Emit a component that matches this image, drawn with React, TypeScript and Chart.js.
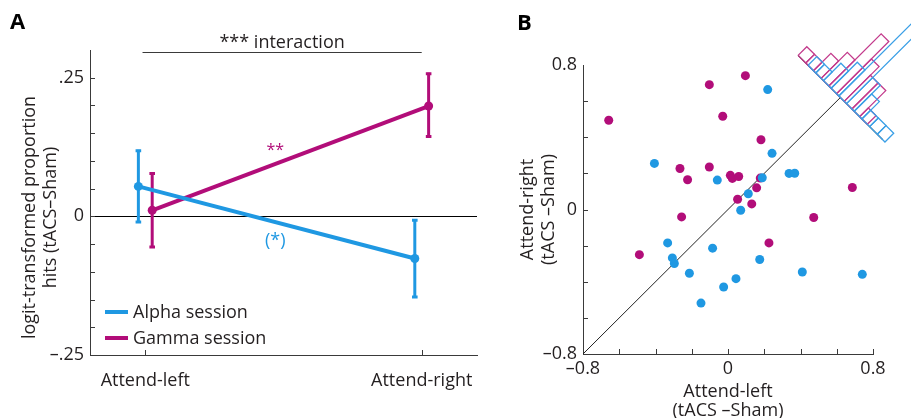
import React, { useEffect, useRef } from 'react';
import { Chart, registerables } from 'chart.js';

Chart.register(...registerables);

const FONT = '"Open Sans", "DejaVu Sans", sans-serif';
const TEXT = '#231f20';
const AXIS = '#3a3a3a';
const BLUE = '#1f98e2';
const MAGENTA = '#b20d79';
const BLUE_H = '#3a9fe6';
const MAGENTA_H = '#c33a8c';

// ---------- Panel A data ----------
const conditions = ['Attend-left', 'Attend-right'];
const seriesNames = ['Alpha session', 'Gamma session'];
const alphaMean = [0.054, -0.076];
const alphaLower = [-0.012, -0.147];
const alphaUpper = [0.12, -0.005];
const gammaMean = [0.011, 0.199];
const gammaLower = [-0.057, 0.142];
const gammaUpper = [0.079, 0.259];
const yTickValuesA = [-0.25, 0, 0.25];
const yTickTextA = ['\u2013.25', '0', '.25'];

// ---------- Panel B data ----------
const alphaLeft = [0.219, 0.243, -0.406, -0.059, 0.189, 0.337, 0.368, 0.112, 0.07, -0.333, -0.085, -0.307, -0.296, -0.213, 0.175, 0.044, -0.024, -0.149, 0.41, 0.741];
const alphaRight = [0.664, 0.311, 0.255, 0.163, 0.176, 0.2, 0.201, 0.087, -0.004, -0.185, -0.214, -0.268, -0.299, -0.353, -0.277, -0.383, -0.429, -0.518, -0.346, -0.359];
const gammaLeft = [-0.658, -0.103, 0.096, -0.029, 0.182, -0.265, -0.223, -0.103, 0.013, 0.024, 0.059, 0.178, 0.158, 0.053, 0.131, -0.256, 0.686, 0.473, 0.226, -0.489];
const gammaRight = [0.494, 0.691, 0.741, 0.516, 0.386, 0.227, 0.165, 0.235, 0.189, 0.172, 0.183, 0.174, 0.12, 0.057, 0.031, -0.041, 0.122, -0.044, -0.185, -0.25];
// difference histograms (counts per bin, from "right>left" end to "left>right" end)
const gammaHist = [1, 1, 2, 3, 6, 4, 3, 3, 1, 0, 0];
const alphaHist = [0, 1, 1, 2, 3, 11, 3, 2, 1, 1, 1];
const tickValuesB = [-0.8, 0, 0.8];
const tickTextB = ['\u20130.8', '0', '0.8'];

// histogram geometry (data units)
const HIST_CENTER = 0.62;
const HIST_BIN = 0.06;
const HIST_UNIT = 0.068;
const ALPHA_SHIFT = 0.3;
const X_OFF_A = 0.025;

function txt(ctx: CanvasRenderingContext2D, s: string, x: number, y: number, o: any = {}) {
  ctx.save();
  ctx.font = `${o.weight || 'normal'} ${o.size || 18}px ${FONT}`;
  ctx.fillStyle = o.color || TEXT;
  ctx.textAlign = o.align || 'center';
  ctx.textBaseline = o.baseline || 'alphabetic';
  if (o.rotate) {
    ctx.translate(x, y);
    ctx.rotate(-Math.PI / 2);
    ctx.fillText(s, 0, 0);
  } else {
    ctx.fillText(s, x, y);
  }
  ctx.restore();
}

function labelFor(values: number[], texts: string[]) {
  return (v: any) => {
    const i = values.findIndex((t) => Math.abs(t - Number(v)) < 1e-6);
    return i >= 0 ? texts[i] : '';
  };
}

function inwardTicks(chart: any, len: number) {
  const { ctx, chartArea: ca, scales } = chart;
  ctx.save();
  ctx.strokeStyle = AXIS;
  ctx.lineWidth = 1;
  ctx.beginPath();
  scales.y.ticks.forEach((t: any) => {
    if (t.value > scales.y.max - 1e-9) return;
    const py = Math.round(scales.y.getPixelForValue(t.value)) + 0.5;
    ctx.moveTo(ca.left, py);
    ctx.lineTo(ca.left + len, py);
  });
  scales.x.ticks.forEach((t: any) => {
    if (t.value <= scales.x.min + 1e-9) return;
    const px = Math.round(scales.x.getPixelForValue(t.value)) + 0.5;
    ctx.moveTo(px, ca.bottom);
    ctx.lineTo(px, ca.bottom - len);
  });
  ctx.stroke();
  ctx.restore();
}

const panelAPlugin = {
  id: 'panelA',
  beforeDatasetsDraw(chart: any) {
    const { ctx, chartArea: ca, scales: { x, y } } = chart;
    ctx.save();
    ctx.strokeStyle = '#000';
    ctx.lineWidth = 1;
    const y0 = Math.round(y.getPixelForValue(0)) + 0.5;
    ctx.beginPath();
    ctx.moveTo(ca.left, y0);
    ctx.lineTo(ca.right, y0);
    ctx.stroke();
    const series: [number[], number[], number, string][] = [
      [gammaLower, gammaUpper, X_OFF_A, MAGENTA],
      [alphaLower, alphaUpper, -X_OFF_A, BLUE],
    ];
    series.forEach(([lo, hi, off, col]) => {
      ctx.strokeStyle = col;
      conditions.forEach((_, i) => {
        const px = x.getPixelForValue(i + off);
        const pl = y.getPixelForValue(lo[i]);
        const ph = y.getPixelForValue(hi[i]);
        ctx.lineWidth = 3;
        ctx.beginPath();
        ctx.moveTo(px, pl);
        ctx.lineTo(px, ph);
        ctx.stroke();
        ctx.lineWidth = 3;
        ctx.beginPath();
        ctx.moveTo(px - 2.8, ph + 1);
        ctx.lineTo(px + 2.8, ph + 1);
        ctx.moveTo(px - 2.8, pl - 1);
        ctx.lineTo(px + 2.8, pl - 1);
        ctx.stroke();
      });
    });
    ctx.restore();
  },
  afterDraw(chart: any) {
    const { ctx, chartArea: ca, scales: { x, y } } = chart;
    inwardTicks(chart, 5);
    txt(ctx, 'A', 10, 29, { size: 22, weight: 'bold', align: 'left', color: '#000' });
    // interaction bracket
    const bx0 = x.getPixelForValue(-0.01);
    const bx1 = x.getPixelForValue(1);
    ctx.save();
    ctx.strokeStyle = AXIS;
    ctx.lineWidth = 1;
    ctx.beginPath();
    ctx.moveTo(bx0, 52.5);
    ctx.lineTo(bx1, 52.5);
    ctx.stroke();
    ctx.restore();
    txt(ctx, '*** interaction', (bx0 + bx1) / 2, 48, { size: 18 });
    const mid = x.getPixelForValue(0.47);
    txt(ctx, '**', mid, 155, { size: 16, color: MAGENTA });
    txt(ctx, '(*)', mid, 246, { size: 18, color: BLUE });
    // legend
    const legend: [string, string, number][] = [
      [seriesNames[0], BLUE, 312],
      [seriesNames[1], MAGENTA, 338],
    ];
    legend.forEach(([name, col, ly]) => {
      ctx.save();
      ctx.strokeStyle = col;
      ctx.lineWidth = 4;
      ctx.beginPath();
      ctx.moveTo(105, ly);
      ctx.lineTo(128, ly);
      ctx.stroke();
      ctx.restore();
      txt(ctx, name, 133, ly + 6, { size: 18, align: 'left' });
    });
    // y title
    const cy = (ca.top + ca.bottom) / 2 + 15;
    txt(ctx, 'logit-transformed proportion', 35, cy, { size: 18, rotate: true });
    txt(ctx, 'hits (tACS\u2013Sham)', 56, cy, { size: 18, rotate: true });
  },
};

function histDatasets(counts: number[], shift: number, color: string) {
  const half = counts.length / 2;
  const s = Math.SQRT1_2;
  const p = (t: number, h: number) => ({ x: HIST_CENTER + t * s + h * s, y: HIST_CENTER - t * s + h * s });
  const out: any[] = [];
  counts.forEach((c, i) => {
    if (!c) return;
    const t0 = (i - half + shift) * HIST_BIN;
    const t1 = t0 + HIST_BIN;
    const h = c * HIST_UNIT;
    out.push({
      data: [p(t0, 0), p(t0, h), p(t1, h), p(t1, 0), p(t0, 0)],
      showLine: true,
      borderColor: color,
      borderWidth: 1.3,
      pointRadius: 0,
      fill: false,
      clip: false,
    });
  });
  return out;
}

function baseLineDataset() {
  const half = (gammaHist.length / 2) * HIST_BIN;
  const s = Math.SQRT1_2;
  return {
    data: [
      { x: HIST_CENTER - half * s, y: HIST_CENTER + half * s },
      { x: HIST_CENTER + half * s, y: HIST_CENTER - half * s },
    ],
    showLine: true,
    borderColor: '#222',
    borderWidth: 1.2,
    pointRadius: 0,
    clip: false,
  };
}

const panelBPlugin = {
  id: 'panelB',
  afterDraw(chart: any) {
    const { ctx, chartArea: ca } = chart;
    inwardTicks(chart, 5);
    txt(ctx, 'B', 27, 30, { size: 22, weight: 'bold', align: 'left', color: '#000' });
    const cy = (ca.top + ca.bottom) / 2;
    txt(ctx, 'Attend-right', 43, cy, { size: 18, rotate: true });
    txt(ctx, '(tACS \u2013Sham)', 64, cy, { size: 18, rotate: true });
    const cx = (ca.left + ca.right) / 2;
    txt(ctx, 'Attend-left', cx, 397, { size: 18 });
    txt(ctx, '(tACS \u2013Sham)', cx, 416, { size: 18 });
  },
};

function PanelA() {
  const ref = useRef<HTMLCanvasElement>(null);
  useEffect(() => {
    if (!ref.current) return;
    const chart = new Chart(ref.current, {
      type: 'scatter',
      data: {
        datasets: [
          {
            label: seriesNames[0],
            data: conditions.map((_, i) => ({ x: i - X_OFF_A, y: alphaMean[i] })),
            showLine: true,
            borderColor: BLUE,
            backgroundColor: BLUE,
            borderWidth: 4,
            pointRadius: 4.5,
            pointBorderWidth: 0,
            clip: false,
          },
          {
            label: seriesNames[1],
            data: conditions.map((_, i) => ({ x: i + X_OFF_A, y: gammaMean[i] })),
            showLine: true,
            borderColor: MAGENTA,
            backgroundColor: MAGENTA,
            borderWidth: 4,
            pointRadius: 4.5,
            pointBorderWidth: 0,
            clip: false,
          },
        ],
      },
      options: {
        animation: false,
        responsive: false,
        events: [],
        layout: { padding: { left: 0, top: 50, right: 13, bottom: 0 } },
        plugins: { legend: { display: false }, tooltip: { enabled: false } },
        scales: {
          x: {
            type: 'linear',
            min: -0.2,
            max: 1.2,
            afterBuildTicks: (s: any) => {
              s.ticks = conditions.map((_, i) => ({ value: i }));
            },
            afterFit: (s: any) => {
              s.height = 63;
            },
            grid: { display: false, drawTicks: false },
            border: { display: true, color: AXIS, width: 1 },
            ticks: {
              autoSkip: false,
              maxRotation: 0,
              padding: 15,
              color: TEXT,
              font: { family: FONT, size: 18 },
              callback: (v: any) => conditions[Math.round(Number(v))] ?? '',
            },
          },
          y: {
            type: 'linear',
            min: -0.25,
            max: 0.3,
            afterFit: (s: any) => {
              s.width = 90;
            },
            grid: { display: false, drawTicks: false },
            border: { display: true, color: AXIS, width: 1 },
            ticks: {
              stepSize: 0.05,
              autoSkip: false,
              padding: 6,
              color: TEXT,
              font: { family: FONT, size: 18 },
              callback: labelFor(yTickValuesA, yTickTextA),
            },
          },
        },
      },
      plugins: [panelAPlugin],
    } as any);
    return () => chart.destroy();
  }, []);
  return <canvas ref={ref} width={490} height={418} style={{ position: 'absolute', left: 0, top: 0, width: 490, height: 418 }} />;
}

function PanelB() {
  const ref = useRef<HTMLCanvasElement>(null);
  useEffect(() => {
    if (!ref.current) return;
    const datasets: any[] = [
      {
        label: seriesNames[0],
        data: alphaLeft.map((v, i) => ({ x: v, y: alphaRight[i] })),
        backgroundColor: BLUE,
        borderColor: BLUE,
        pointRadius: 4.5,
        pointBorderWidth: 0,
      },
      {
        label: seriesNames[1],
        data: gammaLeft.map((v, i) => ({ x: v, y: gammaRight[i] })),
        backgroundColor: MAGENTA,
        borderColor: MAGENTA,
        pointRadius: 4.5,
        pointBorderWidth: 0,
      },
      ...histDatasets(alphaHist, ALPHA_SHIFT, BLUE_H),
      ...histDatasets(gammaHist, 0, MAGENTA_H),
      baseLineDataset(),
      {
        data: [
          { x: -0.8, y: -0.8 },
          { x: HIST_CENTER, y: HIST_CENTER },
        ],
        showLine: true,
        borderColor: '#222',
        borderWidth: 1,
        pointRadius: 0,
        clip: false,
      },
    ];
    const chart = new Chart(ref.current, {
      type: 'scatter',
      data: { datasets },
      options: {
        animation: false,
        responsive: false,
        events: [],
        layout: { padding: { left: 0, top: 65, right: 38, bottom: 0 } },
        plugins: { legend: { display: false }, tooltip: { enabled: false } },
        scales: {
          x: {
            type: 'linear',
            min: -0.8,
            max: 0.8,
            afterFit: (s: any) => {
              s.height = 64;
            },
            grid: { display: false, drawTicks: false },
            border: { display: true, color: AXIS, width: 1 },
            ticks: {
              stepSize: 0.2,
              autoSkip: false,
              maxRotation: 0,
              padding: 4,
              color: TEXT,
              font: { family: FONT, size: 18 },
              callback: labelFor(tickValuesB, tickTextB),
            },
          },
          y: {
            type: 'linear',
            min: -0.8,
            max: 0.8,
            afterFit: (s: any) => {
              s.width = 93;
            },
            grid: { display: false, drawTicks: false },
            border: { display: true, color: AXIS, width: 1 },
            ticks: {
              stepSize: 0.2,
              autoSkip: false,
              padding: 6,
              color: TEXT,
              font: { family: FONT, size: 18 },
              callback: labelFor(tickValuesB, tickTextB),
            },
          },
        },
      },
      plugins: [panelBPlugin],
    } as any);
    return () => chart.destroy();
  }, []);
  return <canvas ref={ref} width={421} height={418} style={{ position: 'absolute', left: 490, top: 0, width: 421, height: 418 }} />;
}

export default function App() {
  return (
    <div style={{ position: 'fixed', left: 0, top: 0, width: 911, height: 418, background: '#fff', overflow: 'hidden' }}>
      <PanelA />
      <PanelB />
    </div>
  );
}
